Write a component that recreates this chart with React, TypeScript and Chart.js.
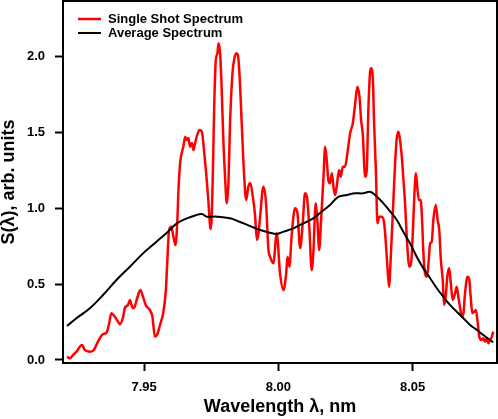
import React, { useEffect, useRef } from "react";
import { Chart, registerables } from "chart.js";

Chart.register(...registerables);

// Single shot spectrum: wavelength (nm) and S(λ)
const singleShotX = [
  7.9213, 7.9223, 7.9236, 7.9248, 7.9269, 7.9279, 7.9298, 7.9313, 7.9322, 7.9335,
  7.9347, 7.936, 7.937, 7.9378, 7.9391, 7.9403, 7.941, 7.9422, 7.9428, 7.944,
  7.9447, 7.9453, 7.9459, 7.9465, 7.9474, 7.9486, 7.9496, 7.9506, 7.9521, 7.9531,
  7.954, 7.9548, 7.9561, 7.9571, 7.9581, 7.9586, 7.9593, 7.9601, 7.9608, 7.9617,
  7.9623, 7.9628, 7.9634, 7.9646, 7.9653, 7.9659, 7.9665, 7.9671, 7.9678, 7.9684,
  7.969, 7.9696, 7.9706, 7.9715, 7.9723, 7.9731, 7.9739, 7.9746, 7.9749, 7.9756,
  7.9761, 7.9767, 7.9773, 7.9777, 7.9783, 7.9789, 7.9795, 7.9802, 7.9808, 7.9814,
  7.982, 7.9829, 7.9835, 7.9843, 7.9849, 7.9855, 7.9864, 7.9872, 7.988, 7.9888,
  7.9895, 7.9905, 7.9913, 7.992, 7.9926, 7.9932, 7.9944, 7.9954, 7.9963, 7.9969,
  7.9981, 7.9994, 8.0006, 8.0019, 8.0029, 8.0034, 8.0041, 8.005, 8.0062, 8.0071,
  8.0081, 8.0091, 8.0099, 8.0106, 8.0115, 8.0124, 8.013, 8.0139, 8.0145, 8.0152,
  8.0159, 8.0168, 8.0174, 8.018, 8.0186, 8.0192, 8.0199, 8.0205, 8.0211, 8.0217,
  8.0226, 8.0232, 8.024, 8.0248, 8.0257, 8.0267, 8.0277, 8.0286, 8.0294, 8.0302,
  8.0308, 8.0314, 8.0323, 8.0329, 8.0335, 8.0341, 8.0345, 8.0352, 8.0356, 8.0363,
  8.0369, 8.0376, 8.0385, 8.0394, 8.0401, 8.0406, 8.0412, 8.0418, 8.0426, 8.0434,
  8.044, 8.0447, 8.0453, 8.0459, 8.0465, 8.0472, 8.048, 8.0488, 8.0494, 8.05,
  8.0505, 8.0512, 8.0517, 8.0523, 8.053, 8.0535, 8.054, 8.0546, 8.0553, 8.0558,
  8.0565, 8.0571, 8.0577, 8.0586, 8.0593, 8.0599, 8.0605, 8.0612, 8.0617, 8.0623,
  8.0629, 8.0636, 8.0642, 8.0649, 8.0658, 8.0664, 8.067, 8.0676, 8.0683, 8.0689,
  8.0695, 8.0704, 8.0711, 8.0716, 8.0722, 8.0729, 8.0735, 8.0741, 8.0748, 8.0757,
  8.0763, 8.077, 8.0776, 8.0782, 8.0788, 8.0795, 8.08,
];
const singleShotY = [
  0.022, 0.011, 0.033, 0.055, 0.099, 0.066, 0.055, 0.066, 0.099, 0.143,
  0.171, 0.18, 0.242, 0.308, 0.285, 0.252, 0.235, 0.285, 0.341, 0.363,
  0.396, 0.363, 0.341, 0.351, 0.407, 0.461, 0.417, 0.363, 0.33, 0.285,
  0.154, 0.165, 0.242, 0.308, 0.461, 0.637, 0.857, 0.879, 0.824, 0.758,
  0.89, 1.121, 1.297, 1.406, 1.472, 1.45, 1.463, 1.406, 1.43, 1.384,
  1.43, 1.472, 1.516, 1.505, 1.384, 1.233, 1.055, 0.879, 0.864, 1.233,
  1.67, 1.978, 2.022, 2.088, 2.022, 1.78, 1.45, 1.187, 1.033, 1.165,
  1.56, 1.89, 1.978, 2.022, 2.011, 1.89, 1.538, 1.231, 1.055, 1.142,
  1.167, 1.075, 0.956, 0.791, 0.837, 0.945, 1.142, 1.035, 0.725, 0.681,
  0.637, 0.835, 0.572, 0.461, 0.572, 0.681, 0.615, 0.835, 1.0, 0.969,
  0.738, 0.91, 1.099, 1.076, 0.879, 0.593, 0.703, 1.033, 0.923, 0.725,
  0.923, 1.208, 1.406, 1.318, 1.187, 1.165, 1.231, 1.142, 1.088, 1.142,
  1.252, 1.208, 1.274, 1.274, 1.363, 1.494, 1.56, 1.692, 1.802, 1.736,
  1.582, 1.494, 1.208, 1.252, 1.648, 1.89, 1.923, 1.846, 1.582, 1.252,
  0.901, 0.945, 0.945, 0.901, 0.747, 0.615, 0.483, 0.659, 0.967, 1.274,
  1.45, 1.505, 1.45, 1.351, 1.206, 1.022, 0.747, 0.615, 0.637, 0.813,
  1.033, 1.231, 1.142, 1.055, 1.055, 0.923, 0.703, 0.572, 0.549, 0.615,
  0.769, 0.78, 0.923, 1.022, 0.923, 0.857, 0.659, 0.527, 0.363, 0.417,
  0.549, 0.604, 0.506, 0.396, 0.44, 0.483, 0.417, 0.351, 0.285, 0.308,
  0.44, 0.549, 0.527, 0.417, 0.308, 0.318, 0.33, 0.264, 0.154, 0.132,
  0.143, 0.121, 0.143, 0.11, 0.132, 0.154, 0.187,
];

// Average spectrum
const averageX = [
  7.9213, 7.9248, 7.9298, 7.9347, 7.9397, 7.9447, 7.9496, 7.9546, 7.9584, 7.9622,
  7.9659, 7.969, 7.9715, 7.9733, 7.9771, 7.982, 7.9857, 7.9895, 7.9932, 7.9969,
  7.9994, 8.0019, 8.0056, 8.0093, 8.013, 8.0155, 8.0192, 8.0223, 8.0255, 8.0286,
  8.0316, 8.0341, 8.036, 8.0391, 8.0422, 8.0441, 8.0465, 8.049, 8.0515, 8.054,
  8.0565, 8.059, 8.0614, 8.0639, 8.0664, 8.0689, 8.0714, 8.0739, 8.0763, 8.0788,
  8.08,
];
const averageY = [
  0.224, 0.275, 0.341, 0.428, 0.527, 0.615, 0.703, 0.78, 0.837, 0.901,
  0.934, 0.953, 0.962, 0.945, 0.945, 0.934, 0.91, 0.883, 0.857, 0.839,
  0.831, 0.846, 0.868, 0.901, 0.934, 0.969, 1.022, 1.076, 1.088, 1.099,
  1.099, 1.109, 1.088, 1.033, 0.967, 0.923, 0.846, 0.769, 0.681, 0.604,
  0.539, 0.473, 0.417, 0.363, 0.318, 0.275, 0.231, 0.198, 0.165, 0.132,
  0.117,
];

const seriesLabels = ["Single Shot Spectrum", "Average Spectrum"];
const seriesColors = ["#ff0000", "#000000"];
const xTicks = [7.95, 8.0, 8.05];
const yTicks = [0.0, 0.5, 1.0, 1.5, 2.0];
const xRange = [7.9198, 8.0814];
const yRange = [-0.02, 2.367];

const FONT = "'Liberation Sans', Arial, Helvetica, sans-serif";

const framePlugin = {
  id: "frame",
  afterDraw(chart: any) {
    const { ctx, chartArea: a } = chart;
    ctx.save();
    ctx.strokeStyle = "#000";
    ctx.lineWidth = 2;
    ctx.beginPath();
    ctx.moveTo(a.left, a.top);
    ctx.lineTo(a.right, a.top);
    ctx.lineTo(a.right, a.bottom);
    ctx.stroke();
    ctx.restore();
  },
};

const legendPlugin = {
  id: "insideLegend",
  afterDraw(chart: any) {
    const { ctx, chartArea: a } = chart;
    ctx.save();
    ctx.font = `bold 13px ${FONT}`;
    ctx.textBaseline = "middle";
    ctx.textAlign = "left";
    chart.data.datasets.forEach((ds: any, i: number) => {
      const y = a.top + 18 + i * 14;
      ctx.strokeStyle = ds.borderColor;
      ctx.lineWidth = ds.borderWidth;
      ctx.beginPath();
      ctx.moveTo(a.left + 15, y);
      ctx.lineTo(a.left + 38, y);
      ctx.stroke();
      ctx.fillStyle = "#000";
      ctx.fillText(ds.label, a.left + 45, y);
    });
    ctx.restore();
  },
};

export default function App() {
  const ref = useRef<HTMLCanvasElement>(null);
  useEffect(() => {
    const chart = new Chart(ref.current!, {
      type: "line",
      data: {
        datasets: [
          {
            label: seriesLabels[0],
            data: singleShotX.map((x, i) => ({ x, y: singleShotY[i] })),
            borderColor: seriesColors[0],
            borderWidth: 2.5,
            pointRadius: 0,
            tension: 0.3,
            cubicInterpolationMode: "monotone",
            order: 2,
          },
          {
            label: seriesLabels[1],
            data: averageX.map((x, i) => ({ x, y: averageY[i] })),
            borderColor: seriesColors[1],
            borderWidth: 2,
            pointRadius: 0,
            tension: 0.4,
            order: 1,
          },
        ],
      },
      options: {
        responsive: true,
        maintainAspectRatio: false,
        animation: false,
        layout: { padding: { top: 1, right: 1, left: 0, bottom: 0 } },
        plugins: {
          legend: { display: false },
          tooltip: { enabled: false },
        },
        scales: {
          x: {
            type: "linear",
            min: xRange[0],
            max: xRange[1],
            afterBuildTicks: (s: any) => {
              s.ticks = xTicks.map((v) => ({ value: v }));
            },
            afterFit: (s: any) => {
              s.height = 56;
              s.paddingLeft = 0;
              s.paddingRight = 0;
            },
            ticks: {
              callback: (v: any) => Number(v).toFixed(2),
              color: "#000",
              font: { family: FONT, size: 13, weight: "bold" },
              padding: 9,
              maxRotation: 0,
            },
            grid: {
              drawOnChartArea: false,
              drawTicks: true,
              tickLength: 8,
              tickWidth: 2,
              tickColor: "#000",
            },
            border: { display: true, color: "#000", width: 2 },
            title: {
              display: true,
              text: "Wavelength λ, nm",
              color: "#000",
              font: { family: FONT, size: 18, weight: "bold", lineHeight: 1 },
              padding: { top: 0, bottom: 3 },
            },
          },
          y: {
            type: "linear",
            min: yRange[0],
            max: yRange[1],
            afterBuildTicks: (s: any) => {
              s.ticks = yTicks.map((v) => ({ value: v }));
            },
            afterFit: (s: any) => {
              s.width = 63;
              s.paddingTop = 0;
              s.paddingBottom = 0;
            },
            ticks: {
              callback: (v: any) => Number(v).toFixed(1),
              color: "#000",
              font: { family: FONT, size: 13, weight: "bold" },
              padding: 10,
            },
            grid: {
              drawOnChartArea: false,
              drawTicks: true,
              tickLength: 8,
              tickWidth: 2,
              tickColor: "#000",
            },
            border: { display: true, color: "#000", width: 2 },
            title: {
              display: true,
              text: "S(λ), arb. units",
              color: "#000",
              font: { family: FONT, size: 18, weight: "bold", lineHeight: 1 },
              padding: { top: 0, bottom: 0 },
            },
          },
        },
      },
      plugins: [framePlugin, legendPlugin],
    });
    return () => chart.destroy();
  }, []);
  return (
    <div
      style={{
        position: "absolute",
        left: 0,
        top: 0,
        width: 498,
        height: 419,
        background: "#fff",
      }}
    >
      <canvas ref={ref} />
    </div>
  );
}
